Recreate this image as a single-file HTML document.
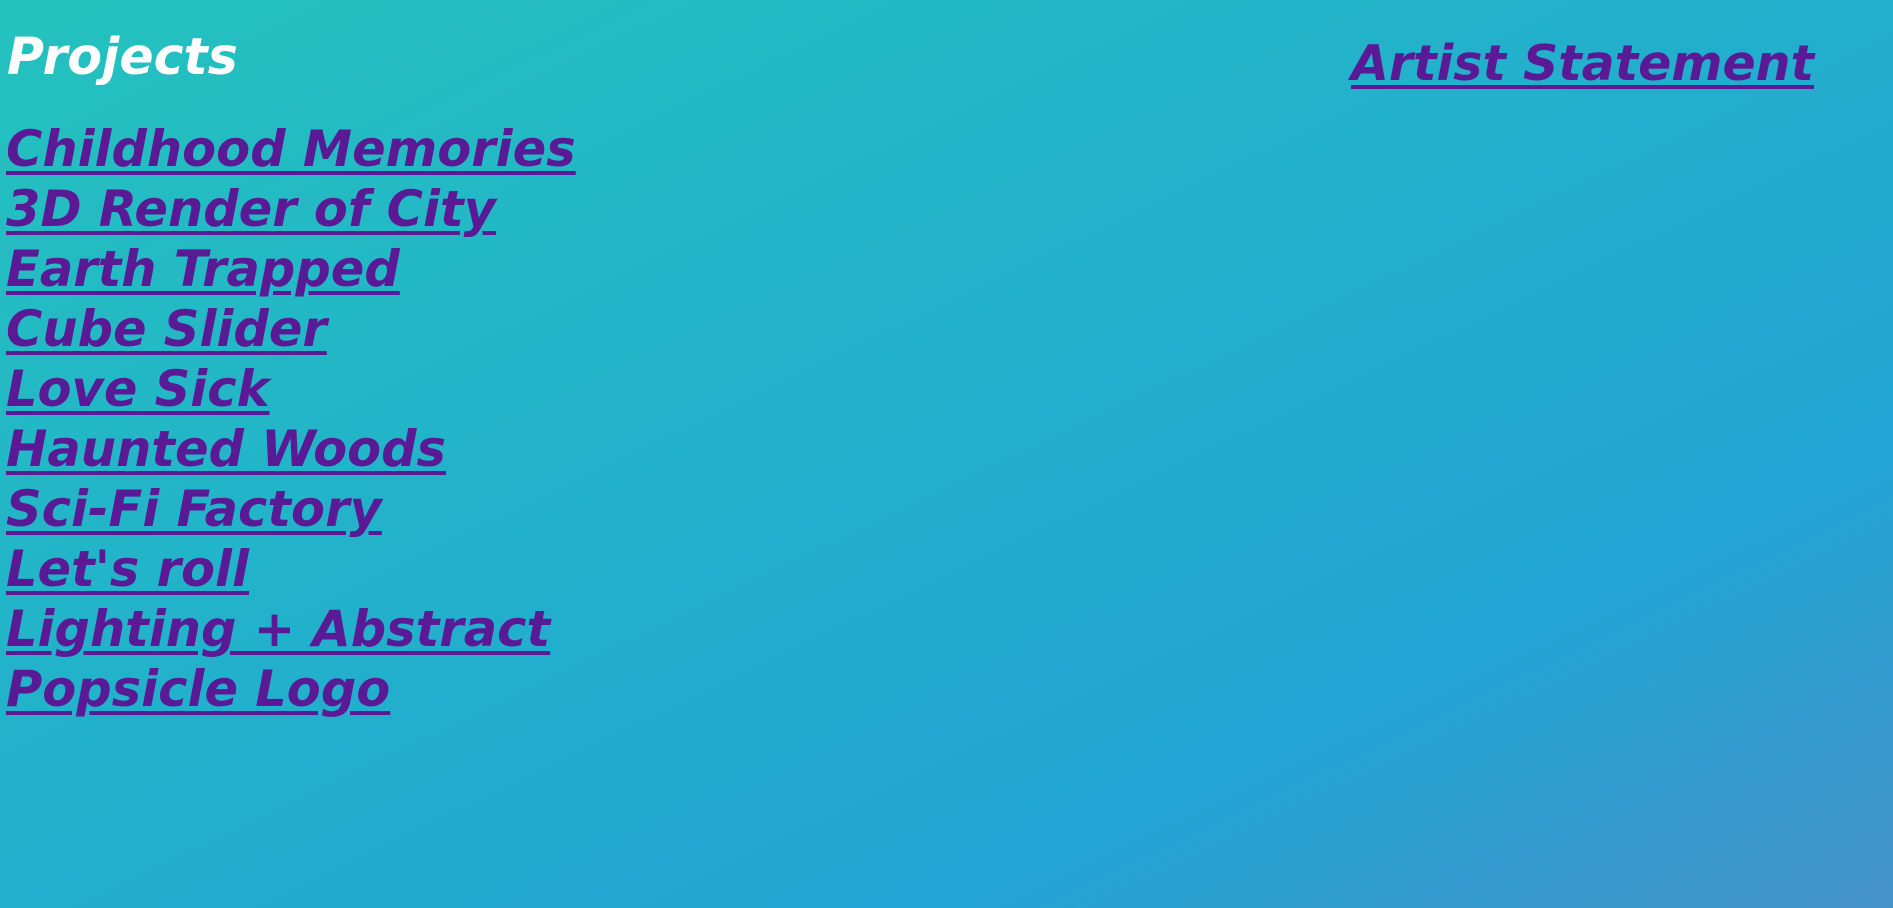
<!DOCTYPE html>
<html><head><meta charset="utf-8"><style>
html,body{margin:0;padding:0;width:1893px;height:908px;overflow:hidden}
body{background:linear-gradient(to bottom right,#24c2be 0%,#22b0cc 45%,#22a4d4 75%,#4592c9 100%);font-family:"DejaVu Sans",sans-serif;font-weight:bold;font-style:italic}
.t{position:absolute;white-space:nowrap;line-height:60px}
h1{position:absolute;left:7px;top:27px;margin:0;font-size:50.5px;line-height:60px;color:#fff;font-style:italic}
a{color:#5a1a96;text-decoration:underline;text-decoration-thickness:4px;text-underline-offset:5px;font-size:49.5px}
#list{position:absolute;left:6px;top:119px;line-height:60px}
#list a{display:block;height:60px}
</style></head><body>
<h1>Projects</h1>
<a class="t" style="left:1351px;top:34px;font-size:49px" href="#">Artist Statement</a>
<div id="list">
<a href="#">Childhood Memories</a>
<a href="#">3D Render of City</a>
<a href="#">Earth Trapped</a>
<a href="#">Cube Slider</a>
<a href="#">Love Sick</a>
<a href="#">Haunted Woods</a>
<a href="#">Sci-Fi Factory</a>
<a href="#">Let's roll</a>
<a href="#">Lighting + Abstract</a>
<a href="#">Popsicle Logo</a>
</div>
</body></html>
